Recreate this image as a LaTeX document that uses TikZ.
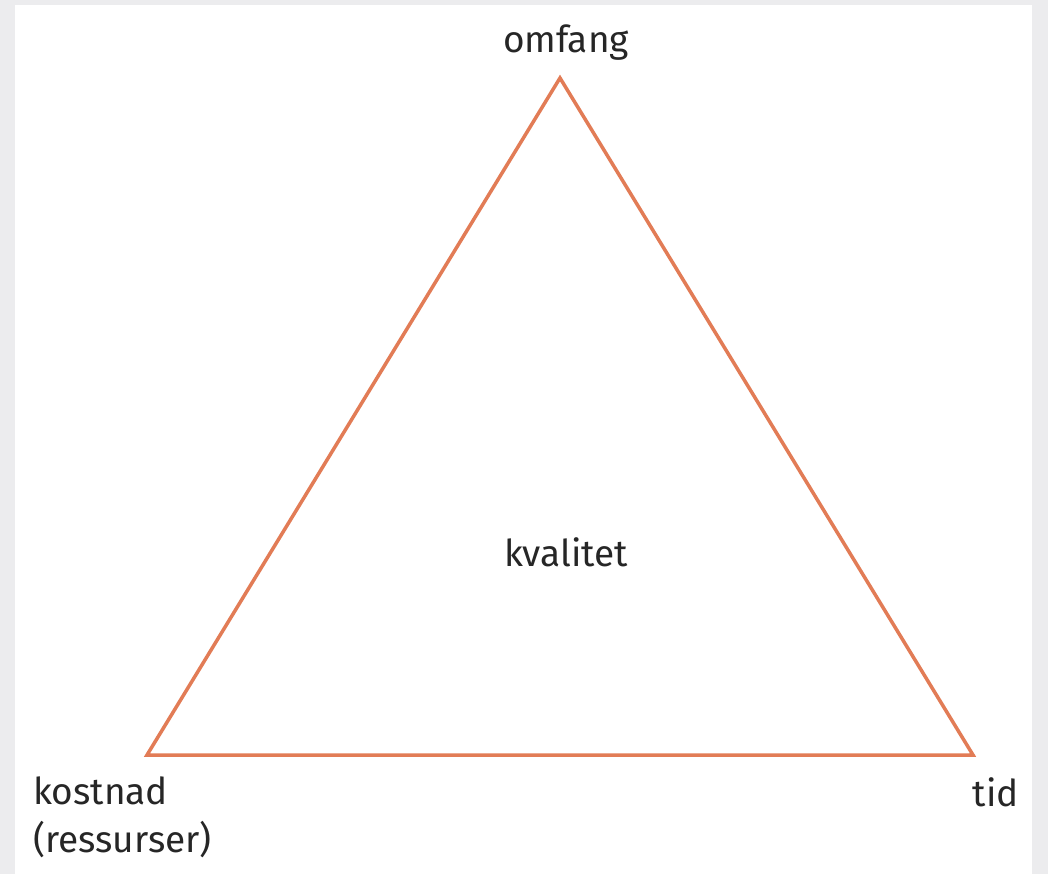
\documentclass[tikz,border=0pt]{standalone}
\usepackage{fontspec}
\setmainfont{Fira Sans}
\definecolor{bordo}{RGB}{226,124,86}
\definecolor{cornice}{RGB}{236,236,238}
\begin{document}
\begin{tikzpicture}[x=1pt, y=-1pt]

    % Stili per il triangolo e le etichette
    \tikzset{lato/.style={draw=bordo, line width=3.5pt, line join=miter},
             etichetta/.style={font=\fontsize{37}{48}\selectfont, text=black!85, inner sep=0pt}}

    % Sfondo: cornice grigia e foglio bianco
    \useasboundingbox (0,0) rectangle (1048,874);
    \fill[cornice] (0,0) rectangle (1048,874);
    \fill[white] (15,5) rectangle (1032,874);

    % Vertici del triangolo
    \coordinate (vtop) at (560,78);
    \coordinate (vsx) at (147,755);
    \coordinate (vdx) at (973,755);

    \path[lato] (vtop) -- (vsx) -- (vdx) -- cycle;

    % Etichette ai vertici e al centro
    \node[etichetta, anchor=base] (omfang) at (566,53) {omfang};
    \node[etichetta, anchor=base] (kvalitet) at (566,566) {kvalitet};
    \node[etichetta, anchor=north west, align=left] (kostnad) at (33,777) {kostnad\\(ressurser)};
    \node[etichetta, anchor=base east] (tid) at (1019,806) {tid};

\end{tikzpicture}
\end{document}
